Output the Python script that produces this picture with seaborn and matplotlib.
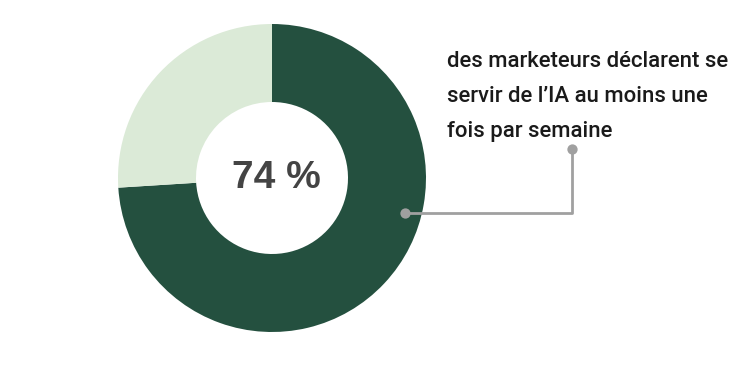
import matplotlib
matplotlib.use("Agg")
import matplotlib.pyplot as plt
import seaborn as sns

labels = ["Oui", "Non"]
values = [74, 26]
colors = ["#24503f", "#dbead7"]
center_label = "74 %"
caption_lines = ["des marketeurs déclarent se", "servir de l\u2019IA au moins une", "fois par semaine"]

sns.set_theme(style="white")
plt.rcParams['font.family'] = ['Roboto', 'DejaVu Sans']

W, H = 750, 372
fig = plt.figure(figsize=(W / 100, H / 100), dpi=100)
ax = fig.add_axes([0, 0, 1, 1])

def Y(y):
    return H - y

cx, cy, R = 272, 178, 154
ax.pie(values, colors=colors, startangle=90, counterclock=False,
       center=(cx, Y(cy)), radius=R, frame=True,
       wedgeprops=dict(width=R - 76, linewidth=0))
ax.set_xlim(0, W)
ax.set_ylim(0, H)
ax.set_aspect("equal")
ax.axis("off")

ax.text(cx + 4, Y(cy), center_label, ha="center", va="center", fontsize=28,
        fontweight="bold", color="#444444", family=["Liberation Sans", "DejaVu Sans"])

# connector
gray = "#a0a0a0"
ax.plot([405, 572, 572], [Y(213), Y(213), Y(149)], color=gray, lw=2, solid_capstyle="butt")
ax.scatter([405, 572], [Y(213), Y(149)], s=55, color=gray, zorder=5, linewidths=0)

for i, line in enumerate(caption_lines):
    ax.text(447, Y(67 + 35 * i), line, ha="left", va="baseline", fontsize=15.9,
            fontweight="medium", color="#1a1a1a")

fig.savefig("out.png", dpi=100)
